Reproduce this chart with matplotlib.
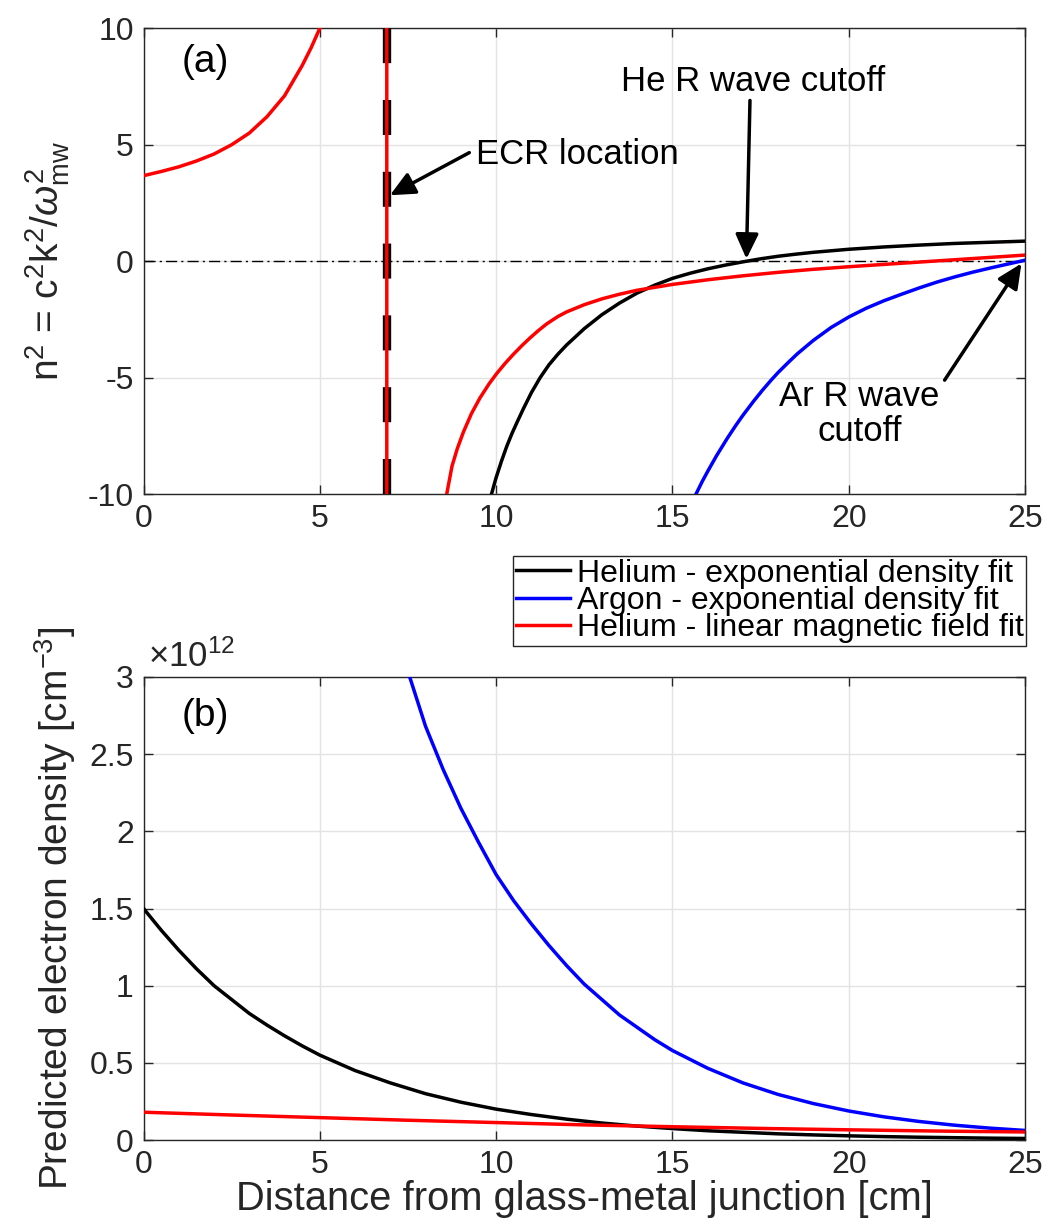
import matplotlib
matplotlib.use("Agg")
import matplotlib.pyplot as plt
from matplotlib.patches import FancyArrowPatch

plt.rcParams['font.family'] = ['Liberation Sans', 'DejaVu Sans']
plt.rcParams['mathtext.fontset'] = 'custom'
plt.rcParams['mathtext.rm'] = 'Liberation Sans'
plt.rcParams['mathtext.it'] = 'Liberation Sans:italic'
plt.rcParams['axes.unicode_minus'] = False
plt.rcParams['lines.scale_dashes'] = False

# ---------------- data: panel (a) refractive index squared ----------------
he_exp_x = [9.87, 10.0, 10.15, 10.3, 10.45, 10.6, 10.77, 11.0, 11.25, 11.5, 11.75, 12.0,
            12.25, 12.5, 13.0, 13.5, 14.0, 14.5, 15.0, 15.5, 16.0, 16.5, 17.0, 17.5,
            18.0, 18.5, 19.0, 20.0, 21.0, 22.0, 23.0, 24.0, 25.0]
he_exp_n2 = [-10.0, -9.3, -8.6, -7.96, -7.4, -6.9, -6.35, -5.65, -5.0, -4.45, -4.0, -3.6,
             -3.25, -2.9, -2.3, -1.8, -1.37, -1.03, -0.74, -0.52, -0.33, -0.17, -0.03, 0.1,
             0.21, 0.3, 0.38, 0.51, 0.61, 0.69, 0.76, 0.81, 0.86]

ar_exp_x = [15.67, 15.85, 16.0, 16.25, 16.56, 16.8, 17.0, 17.3, 17.55, 17.8, 18.0, 18.3,
            18.55, 19.0, 19.5, 20.0, 20.5, 21.0, 21.5, 22.0, 22.5, 23.0, 23.5, 24.0,
            24.5, 25.0]
ar_exp_n2 = [-10.0, -9.45, -9.03, -8.36, -7.6, -7.05, -6.62, -6.02, -5.55, -5.11, -4.78,
             -4.33, -3.97, -3.4, -2.85, -2.4, -2.02, -1.7, -1.42, -1.15, -0.9, -0.68,
             -0.48, -0.3, -0.13, 0.04]

# helium, linear magnetic field fit (diverges at the ECR location, x = 6.9 cm)
he_lin_x = [0.0, 0.5, 1.0, 1.5, 2.0, 2.5, 3.0, 3.5, 4.0, 4.5, 4.75, 5.0, 6.9, 6.9,
            8.6, 8.75, 8.9, 9.07, 9.3, 9.54, 9.8, 10.02, 10.25, 10.49, 10.75, 10.96, 11.2,
            11.43, 11.75, 12.0, 12.5, 13.0, 13.5, 14.0, 15.0, 16.0, 17.0, 18.0, 19.0,
            20.0, 21.0, 22.0, 23.0, 24.0, 25.0]
he_lin_n2 = [3.67, 3.85, 4.05, 4.3, 4.6, 5.0, 5.5, 6.2, 7.1, 8.4, 9.15, 10.0, 1000.0, -1000.0,
             -10.0, -8.8, -8.05, -7.35, -6.55, -5.88, -5.27, -4.82, -4.4, -4.0, -3.6, -3.3,
             -2.98, -2.7, -2.38, -2.18, -1.87, -1.62, -1.42, -1.25, -1.0, -0.8, -0.63,
             -0.48, -0.35, -0.24, -0.14, -0.04, 0.06, 0.16, 0.26]

ecr_x = 6.9

# ---------------- data: panel (b) electron density [1e12 cm^-3] ----------------
he_dens_x = [0, 0.5, 1, 1.5, 2, 2.5, 3, 3.5, 4, 4.5, 5, 6, 7, 8, 9, 10, 11, 12, 13, 14,
             15, 16, 17, 18, 19, 20, 21, 22, 23, 24, 25]
he_dens = [1.5, 1.36, 1.23, 1.11, 1.0, 0.91, 0.82, 0.745, 0.675, 0.61, 0.55, 0.45, 0.37,
           0.30, 0.245, 0.20, 0.165, 0.135, 0.11, 0.09, 0.074, 0.06, 0.05, 0.04, 0.033,
           0.027, 0.022, 0.018, 0.015, 0.012, 0.01]

ar_dens_x = [7.55, 8.0, 8.5, 9.0, 9.5, 10, 10.5, 11, 11.5, 12, 12.5, 13, 13.5, 14, 14.5,
             15, 16, 17, 18, 19, 20, 21, 22, 23, 24, 25]
ar_dens = [3.0, 2.68, 2.40, 2.15, 1.93, 1.72, 1.55, 1.40, 1.26, 1.13, 1.01, 0.91, 0.81,
           0.73, 0.65, 0.58, 0.465, 0.37, 0.295, 0.236, 0.188, 0.15, 0.12, 0.096, 0.077,
           0.062]

he_lin_dens_x = [0, 2.5, 5, 7.5, 10, 12.5, 15, 17.5, 20, 22.5, 25]
he_lin_dens = [0.180, 0.162, 0.145, 0.128, 0.113, 0.098, 0.086, 0.075, 0.066, 0.058, 0.052]

labels = ['Helium - exponential density fit', 'Argon - exponential density fit',
          'Helium - linear magnetic field fit']
colors = ['#000000', '#0000ff', '#ff0000']

top_yticks = [-10, -5, 0, 5, 10]
top_yticklabels = ['-10', '-5', '0', '5', '10']
bot_yticks = [0, 0.5, 1, 1.5, 2, 2.5, 3]
bot_yticklabels = ['0', '0.5', '1', '1.5', '2', '2.5', '3']
xticks = [0, 5, 10, 15, 20, 25]

# ---------------- figure ----------------
W, H = 1049, 1227
fig = plt.figure(figsize=(W / 100, H / 100), dpi=100)

def px_axes(l, r, t, b):
    return [l / W, 1 - b / H, (r - l) / W, (b - t) / H]

ax1 = fig.add_axes(px_axes(143.5, 1025, 28.3, 494))
ax2 = fig.add_axes(px_axes(143.5, 1025, 677, 1140))

axcol = '#262626'
TICK_FS = 23
LAB_FS = 28
ANN_FS = 25

for ax in (ax1, ax2):
    ax.set_xlim(0, 25)
    ax.set_xticks(xticks)
    ax.set_xticklabels([str(t) for t in xticks])
    ax.grid(True, color='#e3e3e3', lw=1.0)
    ax.set_axisbelow(True)
    ax.tick_params(direction='in', length=6.5, width=1.0, top=True, right=True,
                   colors=axcol, labelsize=TICK_FS, pad=7)
    for s in ax.spines.values():
        s.set_color(axcol)
        s.set_linewidth(1.0)

# panel (a)
ax1.set_ylim(-10, 10)
ax1.set_yticks(top_yticks)
ax1.set_yticklabels(top_yticklabels)
ax1.axhline(0, color='black', lw=1.0, dashes=(8, 3, 1.5, 3), zorder=2)
ax1.axvline(ecr_x, color='black', lw=6, dashes=(25.2, 26.5), zorder=3)
l_he, = ax1.plot(he_exp_x, he_exp_n2, color=colors[0], lw=2.5, zorder=4)
l_ar, = ax1.plot(ar_exp_x, ar_exp_n2, color=colors[1], lw=2.5, zorder=4)
l_li, = ax1.plot(he_lin_x, he_lin_n2, color=colors[2], lw=2.5, zorder=5)
ax1.set_ylabel(r'n$^2$ = c$^2$k$^2$/$\omega^2_{\rm mw}$', fontsize=LAB_FS, color=axcol)
ax1.yaxis.set_label_coords(-0.081, 0.5)

ax1.text(1.08, 8.14, '(a)', fontsize=28, ha='left', va='baseline', color='black')
ax1.text(9.43, 4.19, 'ECR location', fontsize=ANN_FS, ha='left', va='baseline')
ax1.text(17.3, 7.32, 'He R wave cutoff', fontsize=ANN_FS, ha='center', va='baseline')
ax1.text(20.31, -6.23, 'Ar R wave', fontsize=ANN_FS, ha='center', va='baseline')
ax1.text(20.31, -7.72, 'cutoff', fontsize=ANN_FS, ha='center', va='baseline')

arrows = [((9.24, 4.66), (6.99, 2.83)),
          ((17.2, 6.9), (17.1, 0.1)),
          ((22.72, -5.11), (24.9, -0.1))]
for (tail, head) in arrows:
    ar = FancyArrowPatch(tail, head, arrowstyle='-|>,head_length=15,head_width=7',
                         mutation_scale=1, lw=2.5, color='black', zorder=6,
                         shrinkA=0, shrinkB=0)
    ax1.add_patch(ar)

# panel (b)
ax2.set_ylim(0, 3)
ax2.set_yticks(bot_yticks)
ax2.set_yticklabels(bot_yticklabels)
ax2.plot(he_dens_x, he_dens, color=colors[0], lw=2.5, zorder=4)
ax2.plot(ar_dens_x, ar_dens, color=colors[1], lw=2.5, zorder=4)
ax2.plot(he_lin_dens_x, he_lin_dens, color=colors[2], lw=2.5, zorder=5)
ax2.set_ylabel('Predicted electron density [cm$^{-3}$]', fontsize=LAB_FS, color=axcol)
ax2.yaxis.set_label_coords(-0.0743, 0.5)
ax2.set_xlabel('Distance from glass-metal junction [cm]', fontsize=28.7, color=axcol)
ax2.xaxis.set_label_coords(0.5, -0.0864)
ax2.text(1.08, 2.68, '(b)', fontsize=28, ha='left', va='baseline', color='black')
ax2.text(0.005, 1.0216, r'$\times$10$^{12}$', transform=ax2.transAxes, fontsize=25,
         ha='left', va='baseline', color=axcol)

leg = fig.legend([l_he, l_ar, l_li], labels, loc='upper right',
                 bbox_to_anchor=(1026 / W, 1 - 556 / H), fontsize=23, frameon=True,
                 fancybox=False, framealpha=1, edgecolor=axcol, borderpad=0.08,
                 handlelength=1.7, handletextpad=0.2, labelspacing=-0.08,
                 borderaxespad=0)
leg.get_frame().set_linewidth(1.0)

fig.savefig('out.png', dpi=100)
